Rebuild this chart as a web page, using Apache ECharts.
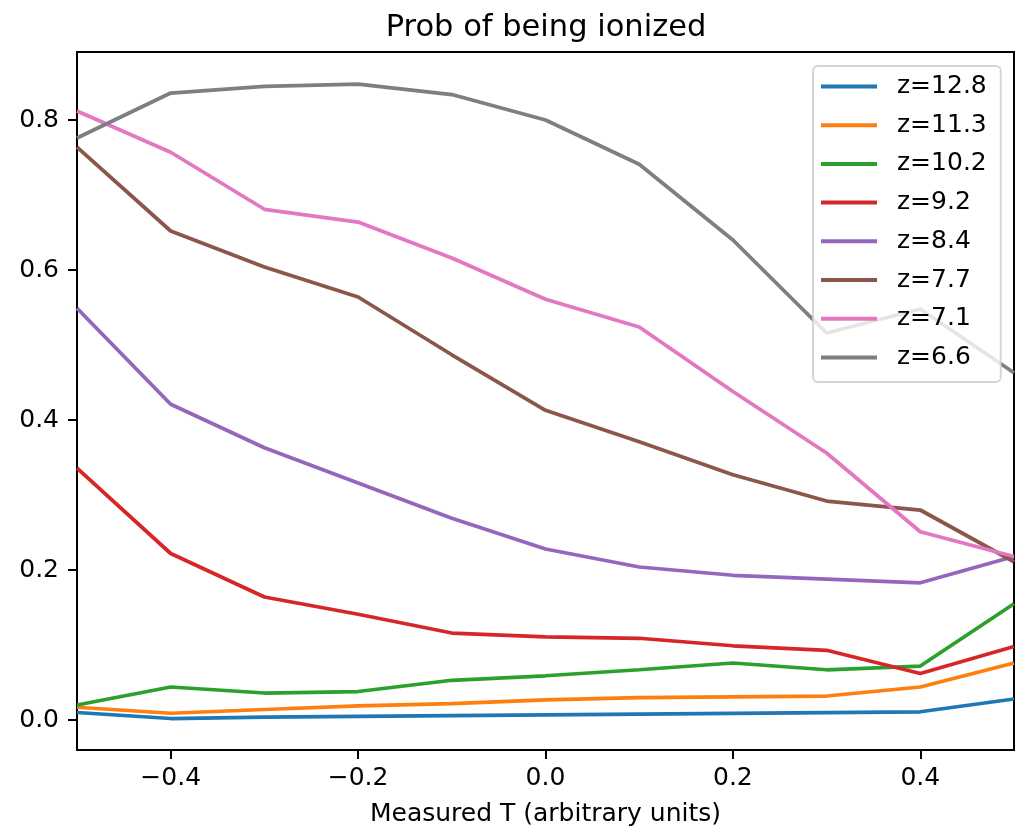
<!DOCTYPE html>
<html>
<head>
<meta charset="utf-8">
<script src="https://cdn.jsdelivr.net/npm/echarts@6/dist/echarts.min.js"></script>
<style>
html,body{margin:0;padding:0;background:#fff;}
#chart{width:1015px;height:832px;}
</style>
</head>
<body>
<div id="chart"></div>
<script>
const xValues = [-0.5, -0.4, -0.3, -0.2, -0.1, 0.0, 0.1, 0.2, 0.3, 0.4, 0.5];
const seriesNames = ['z=12.8', 'z=11.3', 'z=10.2', 'z=9.2', 'z=8.4', 'z=7.7', 'z=7.1', 'z=6.6'];
const z128 = [0.010, 0.002, 0.004, 0.005, 0.006, 0.007, 0.008, 0.009, 0.010, 0.011, 0.028];
const z113 = [0.017, 0.009, 0.014, 0.019, 0.022, 0.027, 0.030, 0.031, 0.032, 0.044, 0.076];
const z102 = [0.020, 0.044, 0.036, 0.038, 0.053, 0.059, 0.067, 0.076, 0.067, 0.072, 0.155];
const z92  = [0.336, 0.222, 0.164, 0.141, 0.116, 0.111, 0.109, 0.099, 0.093, 0.062, 0.098];
const z84  = [0.549, 0.421, 0.363, 0.316, 0.269, 0.228, 0.204, 0.193, 0.188, 0.183, 0.218];
const z77  = [0.764, 0.652, 0.604, 0.564, 0.487, 0.413, 0.371, 0.327, 0.292, 0.280, 0.211];
const z71  = [0.812, 0.757, 0.681, 0.664, 0.616, 0.561, 0.524, 0.438, 0.356, 0.251, 0.218];
const z66  = [0.776, 0.836, 0.845, 0.848, 0.834, 0.800, 0.741, 0.640, 0.516, 0.548, 0.463];
const seriesValues = [z128, z113, z102, z92, z84, z77, z71, z66];
const colors = ['#1f77b4', '#ff7f0e', '#2ca02c', '#d62728', '#9467bd', '#8c564b', '#e377c2', '#7f7f7f'];
const xTicks = [-0.4, -0.2, 0.0, 0.2, 0.4];
const yTicks = [0.0, 0.2, 0.4, 0.6, 0.8];

const font = 'DejaVu Sans';
const fmt = v => (v < -1e-9 ? '\u2212' : '') + Math.abs(v).toFixed(1);

const chart = echarts.init(document.getElementById('chart'), null, {renderer: 'canvas'});
chart.setOption({
  animation: false,
  backgroundColor: '#ffffff',
  color: colors,
  title: {
    text: 'Prob of being ionized',
    left: 541, top: 8, textAlign: 'center',
    textStyle: {fontFamily: font, fontSize: 30.5, fontWeight: 'normal', color: '#000'}
  },
  grid: {
    left: 77, top: 52, width: 937, height: 698,
    show: true, borderColor: '#000', borderWidth: 2, backgroundColor: 'transparent',
    containLabel: false
  },
  legend: {
    orient: 'vertical',
    left: 813, top: 66,
    padding: [8, 14, 12, 8],
    itemGap: 13.7,
    itemWidth: 56, itemHeight: 4,
    icon: 'rect',
    backgroundColor: 'rgba(255,255,255,0.8)',
    borderColor: 'rgba(204,204,204,0.8)', borderWidth: 2, borderRadius: 5,
    textStyle: {fontFamily: font, fontSize: 25, color: '#000', lineHeight: 25, padding: [0, 0, 0, 15]},
    data: seriesNames
  },
  xAxis: {
    type: 'value', min: -0.5, max: 0.5,
    name: 'Measured T (arbitrary units)',
    nameLocation: 'middle', nameGap: 52,
    nameTextStyle: {fontFamily: font, fontSize: 25, color: '#000'},
    axisLine: {show: true, onZero: false, lineStyle: {color: '#000', width: 2}},
    axisTick: {show: true, inside: false, length: 9, lineStyle: {color: '#000', width: 2}, customValues: xTicks},
    axisLabel: {fontFamily: font, fontSize: 25, color: '#000', margin: 16, customValues: xTicks, formatter: fmt},
    splitLine: {show: false}
  },
  yAxis: {
    type: 'value', min: -0.04, max: 0.8907,
    axisLine: {show: true, onZero: false, lineStyle: {color: '#000', width: 2}},
    axisTick: {show: true, inside: false, length: 9, lineStyle: {color: '#000', width: 2}, customValues: yTicks},
    axisLabel: {fontFamily: font, fontSize: 25, color: '#000', margin: 18, customValues: yTicks, formatter: fmt},
    splitLine: {show: false}
  },
  series: seriesNames.map((name, i) => ({
    name: name,
    type: 'line',
    showSymbol: false,
    symbol: 'none',
    lineStyle: {width: 3.75, color: colors[i]},
    itemStyle: {color: colors[i]},
    data: xValues.map((x, j) => [x, seriesValues[i][j]])
  }))
});
</script>
</body>
</html>
